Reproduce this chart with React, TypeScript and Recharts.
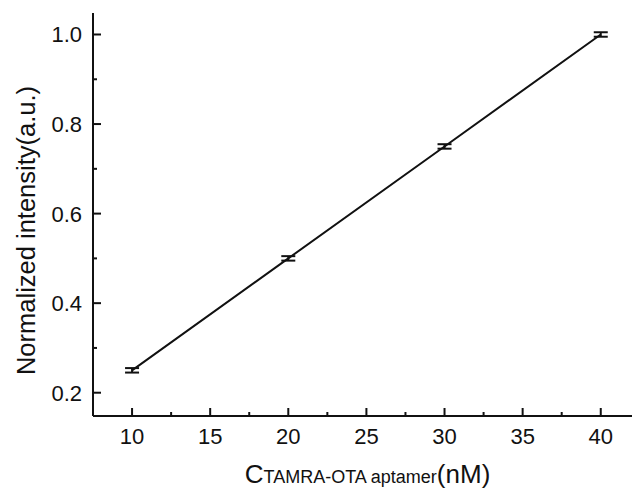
import React from "react";
import { ComposedChart, Line, XAxis, YAxis, ErrorBar, Label } from "recharts";

const concentrations = [10, 20, 30, 40];
const intensity = [0.25, 0.5, 0.75, 1.0];
const errors = [0.005, 0.005, 0.005, 0.005];
const xTicks = [10, 12.5, 15, 17.5, 20, 22.5, 25, 27.5, 30, 32.5, 35, 37.5, 40];
const yTicks = [0.2, 0.3, 0.4, 0.5, 0.6, 0.7, 0.8, 0.9, 1.0];
const xMajor = [10, 15, 20, 25, 30, 35, 40];
const yMajor = [0.2, 0.4, 0.6, 0.8, 1.0];

const data = concentrations.map((c, i) => ({ c, v: intensity[i], err: errors[i] }));

const font = "'Liberation Sans', Arial, sans-serif";
const ink = "#111";

const XTick = (props: any) => {
  const { x, y, payload } = props;
  const major = xMajor.includes(payload.value);
  return (
    <g>
      <line x1={x} x2={x} y1={y} y2={y - (major ? 8 : 4)} stroke={ink} strokeWidth={2} />
      {major && (
        <text x={x} y={y + 28} textAnchor="middle" fontSize={22} fontFamily={font} fill={ink}>
          {payload.value}
        </text>
      )}
    </g>
  );
};

const YTick = (props: any) => {
  const { x, y, payload } = props;
  const major = yMajor.some((m) => Math.abs(m - payload.value) < 1e-6);
  return (
    <g>
      <line x1={x} x2={x + (major ? 8 : 4)} y1={y} y2={y} stroke={ink} strokeWidth={2} />
      {major && (
        <text x={x - 11} y={y + 8} textAnchor="end" fontSize={22} fontFamily={font} fill={ink}>
          {payload.value.toFixed(1)}
        </text>
      )}
    </g>
  );
};

const XTitle = (props: any) => {
  const { viewBox } = props;
  const cx = viewBox.x + viewBox.width / 2 + 5;
  return (
    <text x={cx} y={viewBox.y + 67} textAnchor="middle" fontFamily={font} fill={ink}>
      <tspan fontSize={26}>C</tspan>
      <tspan fontSize={18}>TAMRA-OTA aptamer</tspan>
      <tspan fontSize={26}>(nM)</tspan>
    </text>
  );
};

const YTitle = (props: any) => {
  const { viewBox } = props;
  const cy = viewBox.y + viewBox.height / 2 + 16;
  return (
    <text
      x={35}
      y={cy}
      transform={`rotate(-90 35 ${cy})`}
      textAnchor="middle"
      fontSize={25.5}
      fontFamily={font}
      fill={ink}
    >
      Normalized intensity(a.u.)
    </text>
  );
};

export default function App() {
  return (
    <div style={{ position: "absolute", left: 0, top: 0, background: "#fff" }}>
      <ComposedChart width={632} height={491} data={data} margin={{ top: 13, right: 0, bottom: 0, left: 0 }}>
        <XAxis
          dataKey="c"
          type="number"
          domain={[7.5, 42]}
          ticks={xTicks}
          interval={0}
          height={75}
          tickSize={0}
          tickMargin={0}
          tickLine={false}
          tick={<XTick />}
          axisLine={{ stroke: ink, strokeWidth: 2 }}
          allowDataOverflow
        >
          <Label content={<XTitle />} />
        </XAxis>
        <XAxis
          xAxisId="top"
          orientation="top"
          dataKey="c"
          type="number"
          domain={[7.5, 42]}
          height={0}
          tick={false}
          tickLine={false}
          axisLine={{ stroke: ink, strokeWidth: 2 }}
          allowDataOverflow
        />
        <YAxis
          type="number"
          domain={[0.148, 1.048]}
          ticks={yTicks}
          interval={0}
          width={93}
          tickSize={0}
          tickMargin={0}
          tickLine={false}
          tick={<YTick />}
          axisLine={{ stroke: ink, strokeWidth: 2 }}
          allowDataOverflow
        >
          <Label content={<YTitle />} />
        </YAxis>
        <Line
          dataKey="v"
          stroke={ink}
          strokeWidth={2}
          dot={false}
          isAnimationActive={false}
        >
          <ErrorBar dataKey="err" width={7} stroke={ink} strokeWidth={2} direction="y" isAnimationActive={false} />
        </Line>
      </ComposedChart>
    </div>
  );
}
